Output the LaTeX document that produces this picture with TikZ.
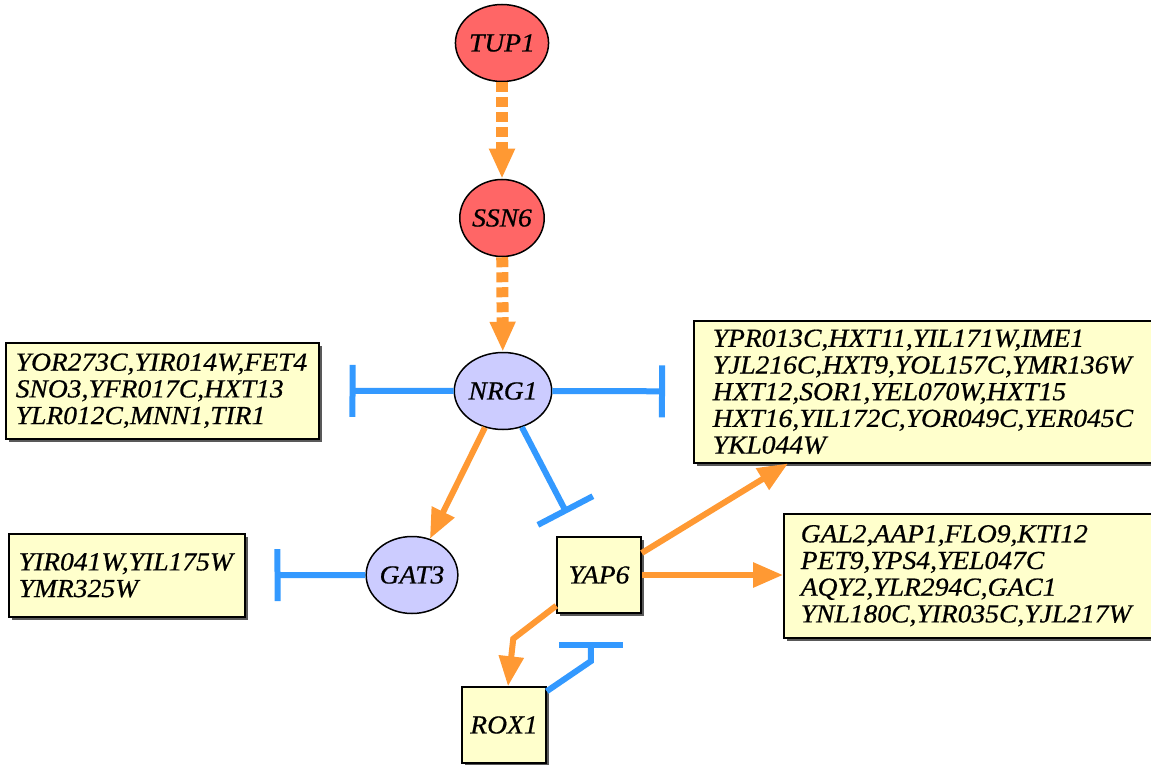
\documentclass[tikz,border=0pt]{standalone}
\usepackage{fontspec}
\setmainfont{Liberation Serif}[FakeStretch=1.06,FakeBold=0.6]
\usetikzlibrary{arrows.meta,shapes.geometric,shadows}
\definecolor{actorange}{RGB}{255,153,51}
\definecolor{inhblue}{RGB}{51,153,255}
\definecolor{corered}{RGB}{255,102,102}
\definecolor{tflilac}{RGB}{204,204,255}
\definecolor{geneyellow}{RGB}{255,255,204}
\tikzset{
  genefont/.style={font=\fontsize{26}{26.7}\selectfont\itshape},
  boxshadow/.style={general shadow={fill=black!65, shadow xshift=3pt, shadow yshift=-3pt}},
  corep/.style={ellipse, draw, line width=1.5pt, fill=corered, minimum width=81pt, minimum height=77pt, inner sep=0pt, genefont},
  tf/.style={corep, fill=tflilac},
  tfbox/.style={rectangle, draw, line width=1.5pt, fill=geneyellow, minimum width=84pt, minimum height=76pt, inner sep=0pt, genefont, boxshadow},
  genebox/.style={rectangle, draw, line width=1.5pt, fill=geneyellow, anchor=north west, align=left, inner xsep=10pt, inner ysep=0pt, genefont, boxshadow},
  act/.style={draw=actorange, line width=6pt, -{Triangle[length=30pt,width=24pt]}},
  actdash/.style={act, line width=12pt, dash pattern=on 10pt off 5pt},
  inh/.style={draw=inhblue, line width=6pt, -{Bar[width=52pt]}},
}
\begin{document}
\begin{tikzpicture}[x=1pt,y=-1pt]
        \useasboundingbox (0,0) rectangle (1151,765);
        \clip (0,0) rectangle (1151,765);

        % co-repressor and regulators
        \node[corep] (TUP1) at (502,43) {TUP1};
        \node[corep] (SSN6) at (502,218) {SSN6};
        \node[tf] (NRG1) at (503,391) {NRG1};
        \node[tf, minimum width=77pt] (GAT3) at (412,575) {GAT3};
        \node[tfbox] (YAP6) at (599,575) {YAP6};
        \node[tfbox] (ROX1) at (504,725) {ROX1};

        % target gene lists
        \node[genebox, text width=293pt, minimum height=96pt] (nrgL) at (5,342)
            {YOR273C,YIR014W,FET4\\SNO3,YFR017C,HXT13\\YLR012C,MNN1,TIR1};
        \node[genebox, text width=460pt, minimum height=142pt, inner xsep=19pt] (nrgR) at (693,320)
            {YPR013C,HXT11,YIL171W,IME1\\YJL216C,HXT9,YOL157C,YMR136W\\HXT12,SOR1,YEL070W,HXT15\\HXT16,YIL172C,YOR049C,YER045C\\YKL044W};
        \node[genebox, text width=216pt, minimum height=83pt] (gatL) at (8,533)
            {YIR041W,YIL175W\\YMR325W};
        \node[genebox, text width=380pt, minimum height=124pt, inner xsep=17pt] (yapR) at (783,513)
            {GAL2,AAP1,FLO9,KTI12\\PET9,YPS4,YEL047C\\AQY2,YLR294C,GAC1\\YNL180C,YIR035C,YJL217W};

        % TUP1 -> SSN6 -> NRG1
        \draw[actdash] (TUP1) -- (SSN6);
        \draw[actdash] (SSN6) -- (NRG1);

        % NRG1
        \draw[inh, shorten >=30pt] (NRG1) -- (nrgL);
        \draw[inh, shorten >=28pt] (NRG1) -- (nrgR);
        \draw[act] (NRG1) -- (GAT3);
        \draw[inh, shorten >=26pt, -{Bar[width=62pt]}] (NRG1) -- (YAP6);

        % GAT3
        \draw[inh, shorten >=29pt] (GAT3) -- (gatL);

        % YAP6
        \draw[act] ([yshift=22pt]YAP6.east) -- ([xshift=95pt]nrgR.south west);
        \draw[act] (YAP6.east) -- (YAP6.east -| yapR.west);
        \draw[act] ([yshift=8pt]YAP6.south west) -- ++(-43,33) -- ([xshift=4pt]ROX1.north);

        % ROX1
        \draw[inh, -{Bar[width=64pt]}] ([yshift=-5pt]ROX1.north east) -- ++(44,-30) -- ++(0,-19);
\end{tikzpicture}
\end{document}
